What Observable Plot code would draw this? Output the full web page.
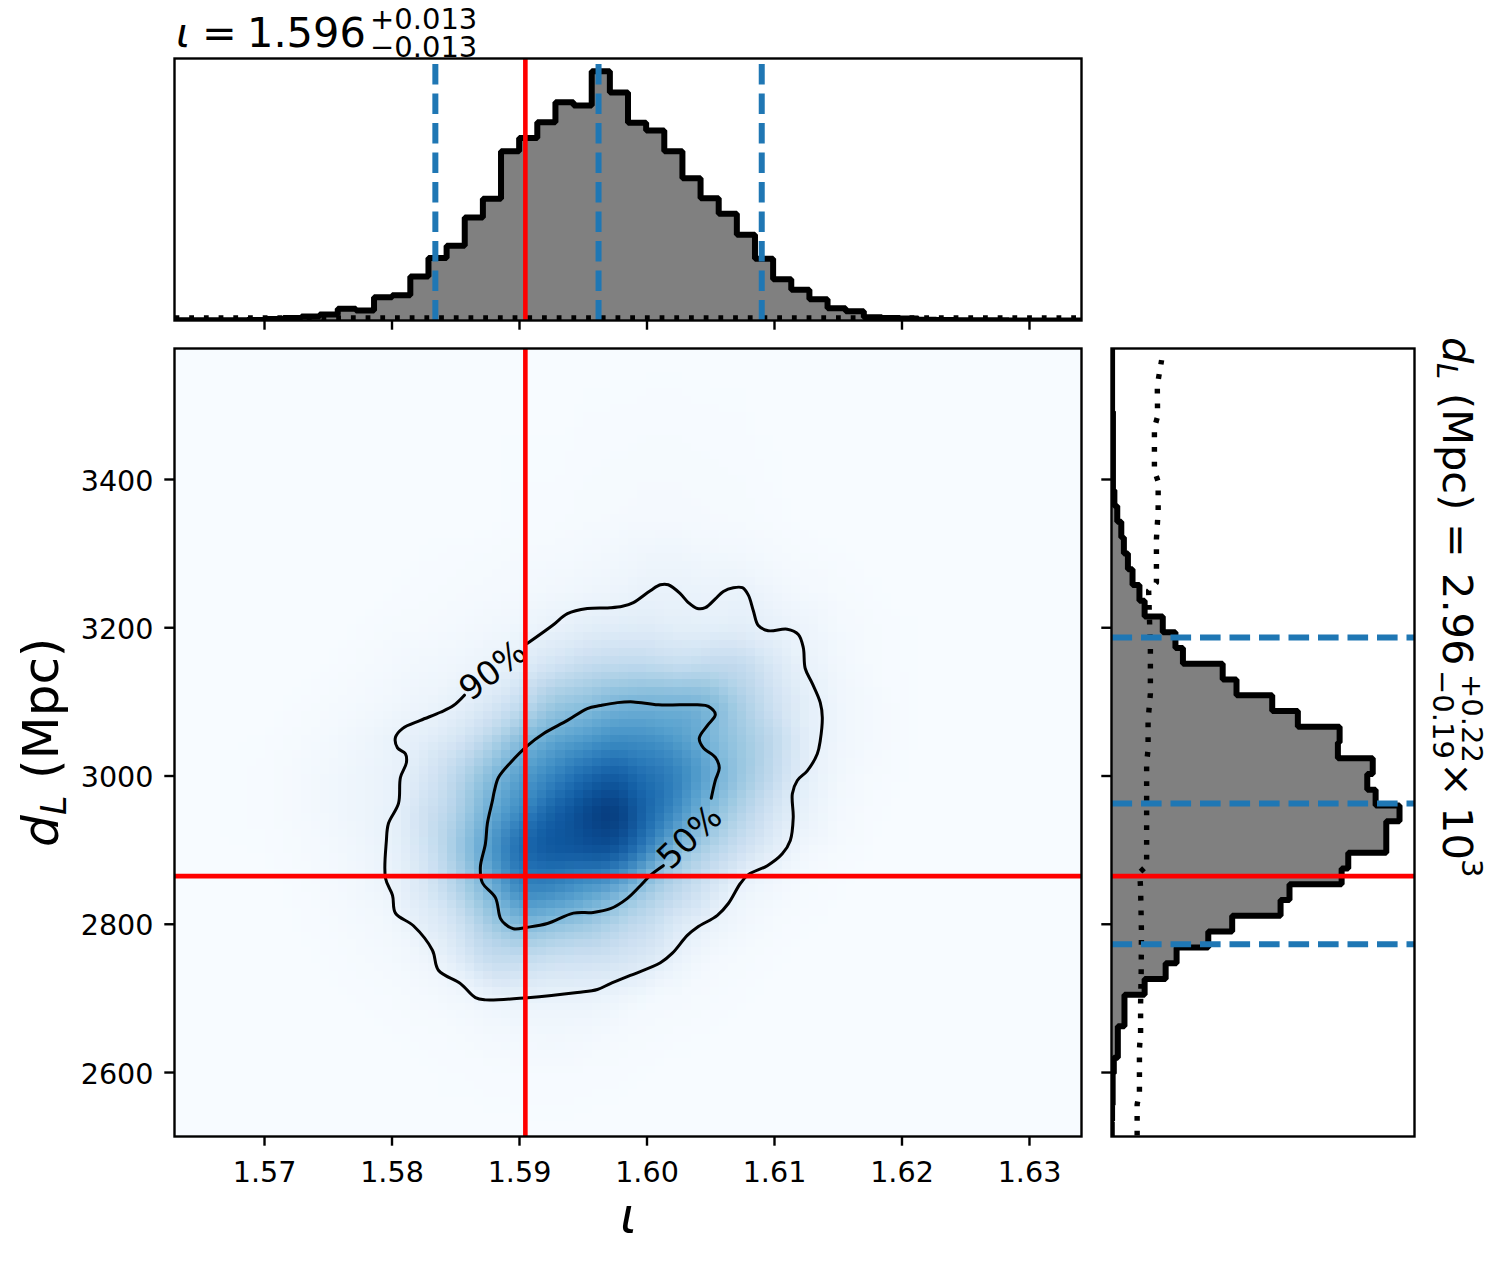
<!DOCTYPE html>
<html>
<head>
<meta charset="utf-8">
<script src="https://cdn.jsdelivr.net/npm/d3@7"></script>
<script src="https://cdn.jsdelivr.net/npm/@observablehq/plot@0.6"></script>
<style>
  html, body { margin: 0; padding: 0; background: #fff; }
  #page { position: relative; width: 1502px; height: 1263px; overflow: hidden; }
  #page > svg { position: absolute; }
</style>
</head>
<body>
<div id="page"></div>
<script>
// ---- axis extents and ticks (data units) ----
const iotaDomain = [1.56294, 1.63408];
const dlDomain = [2513.7, 3576.7];
const iotaTicks = [1.57, 1.58, 1.59, 1.60, 1.61, 1.62, 1.63];
const dlTicks = [2600, 2800, 3000, 3200, 3400];

// ---- injected values and credible bounds ----
const iotaTrue = 1.59046;
const dlTrue = 2865;
const iotaBounds = [1.5834, 1.5962, 1.6090];
const dlBounds = [2773, 2963, 3187];

// ---- iota histogram, 50 bins, percent of peak ----
const iotaHist = [0.1, 0.1, 0.1, 0.1, 0.2, 0.6, 1, 1.6, 2.4, 4.7,
  4, 9.3, 10.1, 17.6, 25, 29.9, 41.2, 48.7, 67.7, 73,
  79.3, 87.3, 86, 99.7, 91.2, 79.1, 76, 67.7, 56.9, 48.9,
  42.7, 34.3, 24.7, 16.5, 12.3, 8.5, 4.9, 3.7, 1.3, 1,
  0.8, 0.3, 0.2, 0.1, 0.1, 0.1, 0, 0, 0, 0];
const iotaPrior = [1, 1];

// ---- dL histogram, 50 bins from the top down, percent of peak ----
const dlHist = [0.2, 0.2, 0.2, 0.2, 0.5, 0.5, 0.5, 0.5, 0.5, 1,
  2, 3.4, 4.3, 5.7, 7.3, 9.7, 11.5, 17.8, 22.2, 24.8,
  38.6, 43.4, 55.8, 64.7, 79.2, 78.6, 90.7, 88.8, 91.7, 100,
  95.4, 95.4, 82.2, 79.9, 61.8, 58.7, 41.9, 33.6, 22.6, 18.8,
  11.5, 4.5, 4.5, 2.2, 2.2, 0.8, 0.4, 0.4, 0.2, 0.1];
const dlPriorV = [8.9, 8.9, 9.7, 9.7, 10.1, 10.1, 10.3, 10.4, 10.1, 9.8, 12.2, 12.2, 12.7, 12.7, 13.5, 13.5, 13.2, 12.9, 15.6, 15.6, 16.2, 16.2, 14.9, 14.9, 16, 15.9, 17.4];
const dlPriorD = [2515, 2557, 2573, 2632, 2653, 2693, 2734, 2789, 2848, 2870, 2879, 3018, 3036, 3075, 3111, 3172, 3210, 3250, 3261, 3320, 3357, 3397, 3412, 3470, 3485, 3527, 3561];

// ---- 90% contour ----
const c90x = [1.59063,1.59258,1.59376,1.59532,1.59713,1.59807,1.59893,1.60026,1.60105,1.60167,1.60261,1.60324,1.60395,1.60457,1.60536,1.60599,1.60677,1.60748,1.60795,1.60834,1.60873,1.60951,1.611,1.61187,1.61226,1.61241,1.61296,1.61359,1.61375,1.61359,1.61336,1.61257,1.61179,1.6114,1.61147,1.61124,1.61061,1.60944,1.60795,1.60732,1.60638,1.60552,1.60395,1.60316,1.60199,1.60105,1.59869,1.59713,1.59611,1.59454,1.59063,1.58733,1.58654,1.58537,1.58364,1.58317,1.58168,1.58027,1.58004,1.57949,1.57956,1.57972,1.58051,1.58066,1.58113,1.58105,1.58043,1.58027,1.58082,1.58223,1.5838,1.58482,1.58568];
const c90y = [3179,3203,3219,3226,3227,3229,3234,3250,3258,3258,3246,3234,3226,3227,3239,3249,3254,3254,3244,3223,3203,3196,3198,3191,3173,3145,3125,3099,3079,3048,3030,3007,2994,2976,2944,2913,2895,2879,2867,2855,2828,2812,2796,2785,2761,2748,2731,2720,2712,2708,2701,2698,2701,2720,2738,2765,2798,2815,2839,2862,2913,2936,2963,2998,3018,3030,3038,3052,3064,3075,3086,3095,3109];

// ---- 50% contour ----
const c50x = [1.60504,1.60536,1.60567,1.60536,1.60442,1.6041,1.60473,1.60536,1.60481,1.60395,1.60089,1.59893,1.59768,1.59634,1.59532,1.59376,1.59187,1.59063,1.58929,1.58835,1.58803,1.58788,1.58748,1.58733,1.58693,1.58709,1.58811,1.5885,1.58889,1.58952,1.59063,1.59219,1.59423,1.59579,1.59713,1.59846,1.59948,1.60026,1.60128];
const c50y = [2970,2994,3011,3025,3038,3051,3068,3083,3094,3096,3096,3100,3099,3095,3091,3075,3057,3041,3018,2998,2980,2967,2936,2909,2877,2856,2836,2808,2800,2794,2796,2801,2815,2816,2821,2835,2852,2866,2879];

// ---- contour labels ----
const contourLabels = ["90%", "50%"];
const contourLabelX = [1.58793, 1.60336];
const contourLabelY = [3142, 2917];
const contourLabelAngle = [-38, -44];

const heatX = [1.57,1.5725,1.575,1.5775,1.58,1.5825,1.585,1.5875,1.59,1.5925,1.595,1.5975,1.6,1.6025,1.605,1.6075,1.61,1.6125,1.615,1.6175,1.62,1.6225];
const heatY = [3350,3300,3250,3200,3150,3100,3050,3000,2950,2900,2850,2800,2750,2700,2650,2600];
const heat = [
 [0,0,0,0,0,0,0,0,.005,.005,.01,.012,.015,.015,.012,.01,.005,0,0,0,0,0],
 [0,0,0,0,0,.003,.005,.008,.012,.015,.02,.028,.04,.042,.03,.025,.015,.008,.004,0,0,0],
 [0,0,0,0,.003,.006,.01,.015,.02,.03,.04,.05,.07,.07,.06,.07,.04,.02,.01,.004,0,0],
 [0,0,0,.004,.01,.012,.02,.03,.04,.07,.10,.11,.12,.10,.09,.10,.08,.05,.02,.01,.004,0],
 [0,0,.003,.01,.02,.03,.04,.06,.10,.17,.24,.26,.26,.22,.26,.27,.15,.07,.03,.01,.004,0],
 [0,.004,.01,.02,.03,.05,.08,.14,.22,.37,.40,.46,.48,.48,.47,.33,.20,.10,.04,.02,.005,0],
 [.003,.01,.02,.04,.07,.10,.16,.28,.43,.53,.58,.65,.63,.58,.46,.37,.27,.10,.04,.02,.005,0],
 [.005,.015,.03,.05,.07,.15,.27,.43,.57,.67,.78,.86,.76,.70,.53,.38,.25,.09,.03,.01,.003,0],
 [.005,.015,.03,.05,.07,.2,.3,.5,.65,.82,.92,1,.8,.63,.43,.3,.17,.07,.02,.006,0,0],
 [.003,.01,.02,.04,.07,.17,.35,.58,.8,.87,.88,.9,.7,.4,.3,.2,.1,.03,.01,.003,0,0],
 [0,.005,.015,.03,.06,.15,.3,.47,.7,.68,.6,.53,.37,.28,.17,.05,.03,.01,.004,0,0,0],
 [0,.003,.008,.02,.03,.1,.17,.35,.47,.41,.37,.3,.24,.13,.07,.03,.01,.004,0,0,0,0],
 [0,0,.004,.01,.02,.04,.1,.25,.23,.2,.19,.18,.14,.06,.02,.01,.004,0,0,0,0,0],
 [0,0,0,.004,.008,.015,.03,.05,.07,.06,.06,.05,.02,.015,.008,.004,0,0,0,0,0,0],
 [0,0,0,0,.003,.005,.01,.02,.025,.03,.025,.015,.01,.005,.003,0,0,0,0,0,0,0],
 [0,0,0,0,0,.002,.004,.006,.008,.008,.006,.005,.003,0,0,0,0,0,0,0,0,0]
];

// ---- text strings ----
const titleIota = { sym: "ι", eq: "=", val: "1.596", up: "+0.013", down: "−0.013" };
const titleDl = { d: "d", sub: "L", unit: "(Mpc)", eq: "=", val: "2.96", up: "+0.22", down: "−0.19", times: "×", ten: "10", exp: "3" };

// ---- shared styles ----
const font = "'DejaVu Sans', sans-serif";
const TICKFONT = 28.6;
const baseStyle = { fontFamily: font, fontSize: TICKFONT + "px", background: "transparent", overflow: "visible" };
const blue = "#1f77b4", gray = "#808080";
const TICK = 9.7, FRAME = 2.4, HIST = 6, BLUE = 6, RED = 4.6, DOT = 5.4, CONTOUR = 3;
const dash = "20.6,8.9", dots = "4.8,9.9";

const page = document.getElementById("page");
function place(svg, left, top) {
  svg.style.left = left + "px";
  svg.style.top = top + "px";
  page.appendChild(svg);
}

// step outlines built from bin edges
const iotaWidth = (iotaDomain[1] - iotaDomain[0]) / iotaHist.length;
const iotaSteps = iotaHist.flatMap((v, k) => [
  { e: iotaDomain[0] + k * iotaWidth, v },
  { e: iotaDomain[0] + (k + 1) * iotaWidth, v }
]);
const dlWidth = (dlDomain[1] - dlDomain[0]) / dlHist.length;
const dlSteps = dlHist.flatMap((v, k) => [
  { e: dlDomain[1] - k * dlWidth, v },
  { e: dlDomain[1] - (k + 1) * dlWidth, v }
]);

const stepLine = { stroke: "black", strokeWidth: HIST, strokeLinejoin: "miter", strokeLinecap: "butt", clip: true };
const dashLine = { stroke: blue, strokeWidth: BLUE, strokeDasharray: dash, strokeLinecap: "butt", clip: true };
const dotLine = { stroke: "black", strokeWidth: DOT, strokeDasharray: dots, strokeLinecap: "butt", clip: true };

// ---- top panel ----
const topV = [0, 104.8];
place(Plot.plot({
  width: 1090, height: 340,
  marginLeft: 174, marginRight: 9, marginTop: 58, marginBottom: 20,
  style: baseStyle,
  x: { domain: iotaDomain },
  y: { domain: topV, axis: null },
  marks: [
    Plot.areaY(iotaSteps, { x: "e", y1: () => 0, y2: "v", fill: gray, clip: true }),
    Plot.line(iotaSteps, { x: "e", y: "v", ...stepLine }),
    Plot.line(iotaDomain, { x: iotaDomain, y: iotaPrior, ...dotLine }),
    ...iotaBounds.map(b => Plot.line(topV, { x: topV.map(() => b), y: topV, ...dashLine })),
    Plot.line(topV, { x: topV.map(() => iotaTrue), y: topV, stroke: "red", strokeWidth: RED, strokeLinecap: "butt", clip: true }),
    Plot.axisX({ ticks: iotaTicks, anchor: "bottom", tickSize: TICK, strokeWidth: FRAME, text: null, label: null }),
    Plot.frame({ stroke: "black", strokeWidth: FRAME })
  ]
}), 0, 0);

// ---- main panel ----
const heatPoints = [];
const heatXAll = [1.5625, ...heatX, 1.6345];
const heatYAll = [3580, ...heatY, 2510];
heatYAll.forEach((y, r) => heatXAll.forEach((x, c) => {
  const row = heat[r - 1];
  const t = row && c > 0 && c <= heatX.length ? row[c - 1] : 0;
  heatPoints.push({ x, y, t });
}));

place(Plot.plot({
  width: 1090, height: 923,
  marginLeft: 174, marginRight: 9, marginTop: 8, marginBottom: 127,
  style: baseStyle,
  x: { domain: iotaDomain },
  y: { domain: dlDomain },
  color: { type: "linear", scheme: "blues", domain: [0, 1] },
  marks: [
    Plot.raster(heatPoints, {
      x: "x", y: "y", fill: "t",
      x1: iotaDomain[0], x2: iotaDomain[1], y1: dlDomain[0], y2: dlDomain[1],
      width: 100, height: 100, interpolate: "barycentric", blur: 0.5, imageRendering: "pixelated"
    }),
    Plot.line(c90x, { x: c90x, y: c90y, stroke: "black", strokeWidth: CONTOUR, curve: "catmull-rom", clip: true }),
    Plot.line(c50x, { x: c50x, y: c50y, stroke: "black", strokeWidth: CONTOUR, curve: "catmull-rom", clip: true }),
    ...contourLabels.map((s, i) => Plot.text([s], {
      x: [contourLabelX[i]], y: [contourLabelY[i]], text: [s],
      rotate: contourLabelAngle[i], fontSize: 33.5, fill: "black"
    })),
    Plot.line(dlDomain, { x: dlDomain.map(() => iotaTrue), y: dlDomain, stroke: "red", strokeWidth: RED, strokeLinecap: "butt", clip: true }),
    Plot.line(iotaDomain, { x: iotaDomain, y: iotaDomain.map(() => dlTrue), stroke: "red", strokeWidth: RED, strokeLinecap: "butt", clip: true }),
    Plot.axisX({ ticks: iotaTicks, anchor: "bottom", tickSize: TICK, tickPadding: 15, strokeWidth: FRAME, tickFormat: d3.format(".2f"), label: null, fontSize: TICKFONT }),
    Plot.axisY({ ticks: dlTicks, anchor: "left", tickSize: TICK, strokeWidth: FRAME, text: null, label: null }),
    Plot.axisY({ ticks: dlTicks, anchor: "left", tickSize: 0, tickPadding: 21, dy: 2, tickFormat: d3.format("d"), label: null, fontSize: TICKFONT }),
    Plot.frame({ stroke: "black", strokeWidth: FRAME })
  ]
}), 0, 340);

// ---- right panel ----
const rightV = [0, 105.2];
place(Plot.plot({
  width: 412, height: 923,
  marginLeft: 21, marginRight: 88, marginTop: 8, marginBottom: 127,
  style: baseStyle,
  x: { domain: rightV, axis: null },
  y: { domain: dlDomain },
  marks: [
    Plot.areaX(dlSteps, { y: "e", x1: () => 0, x2: "v", fill: gray, clip: true }),
    Plot.line(dlSteps, { x: "v", y: "e", ...stepLine }),
    Plot.line(dlPriorV, { x: dlPriorV, y: dlPriorD, ...dotLine }),
    ...dlBounds.map(b => Plot.line(rightV, { x: rightV, y: rightV.map(() => b), ...dashLine })),
    Plot.line(rightV, { x: rightV, y: rightV.map(() => dlTrue), stroke: "red", strokeWidth: RED, strokeLinecap: "butt", clip: true }),
    Plot.axisY({ ticks: dlTicks, anchor: "left", tickSize: TICK, strokeWidth: FRAME, text: null, label: null }),
    Plot.frame({ stroke: "black", strokeWidth: FRAME })
  ]
}), 1090, 340);

// ---- titles and axis labels, as real text ----
const NS = "http://www.w3.org/2000/svg";
const overlay = document.createElementNS(NS, "svg");
overlay.setAttribute("width", 1502);
overlay.setAttribute("height", 1263);
overlay.style.cssText = "left:0;top:0;pointer-events:none;font-family:" + font;
page.appendChild(overlay);
function group(transform) {
  const g = document.createElementNS(NS, "g");
  if (transform) g.setAttribute("transform", transform);
  overlay.appendChild(g);
  return g;
}
function put(g, s, x, y, size, italic) {
  const t = document.createElementNS(NS, "text");
  t.setAttribute("x", x);
  t.setAttribute("y", y);
  t.setAttribute("font-size", size);
  if (italic) t.setAttribute("font-style", "italic");
  t.textContent = s;
  g.appendChild(t);
}
const top_ = group();
put(top_, titleIota.sym, 176, 47, 41.5, true);
put(top_, titleIota.eq, 202, 47, 41.5);
put(top_, titleIota.val, 247, 47, 41.5);
put(top_, titleIota.up, 370, 29, 29);
put(top_, titleIota.down, 370, 57, 29);
put(top_, titleIota.sym, 620, 1233, 50, true);

const yl = group("translate(58,847) rotate(-90)");
put(yl, titleDl.d, 0, 0, 50, true);
put(yl, titleDl.sub, 32, 8, 35, true);
put(yl, titleDl.unit, 68, 0, 50);

const rt = group("translate(1443,335) rotate(90)");
put(rt, titleDl.d, 2, 0, 41.5, true);
put(rt, titleDl.sub, 28, 6, 29, true);
put(rt, titleDl.unit, 58, 0, 41.5);
put(rt, titleDl.eq, 188, 0, 41.5);
put(rt, titleDl.val, 238, 0, 41.5);
put(rt, titleDl.up, 339, -19, 29);
put(rt, titleDl.down, 335, 10, 29);
put(rt, titleDl.times, 427, 0, 41.5);
put(rt, titleDl.ten, 472, 0, 41.5);
put(rt, titleDl.exp, 524, -19, 29);
</script>
</body>
</html>
